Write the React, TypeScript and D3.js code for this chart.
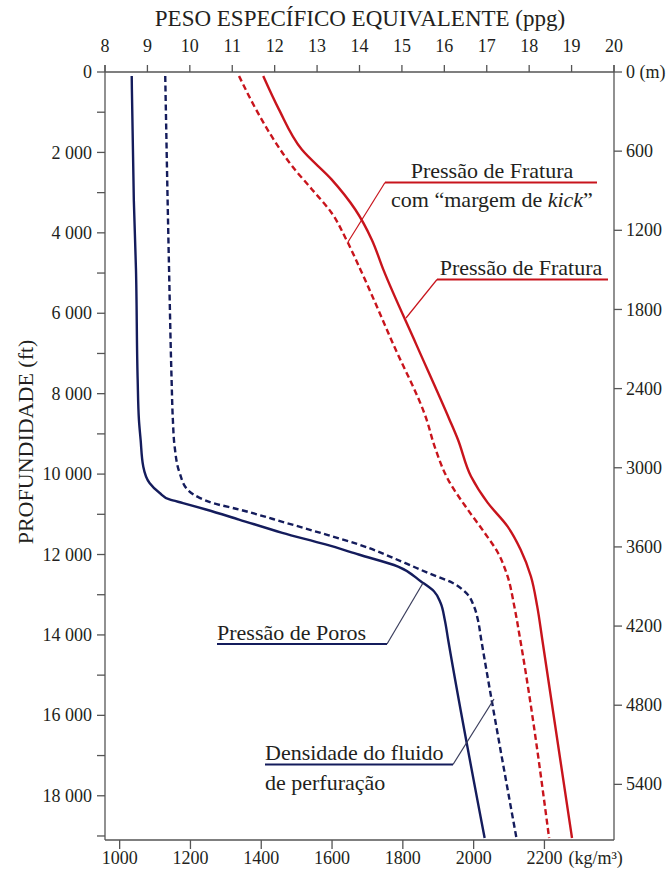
import React from "react";
import * as d3 from "d3";

const width = 671;
const height = 874;
const margin = { top: 72, right: 56, bottom: 34, left: 105 };

// depths in ft, values in ppg
const poreDepth = [100, 3200, 4900, 7650, 8650, 9150, 9800, 10220, 10470, 10630, 10720, 10880, 11130, 11460, 11750, 12000, 12300, 12670, 12920, 13200, 13620, 14120, 19050];
const porePpg = [8.63, 8.68, 8.73, 8.77, 8.8, 8.84, 8.9, 9.05, 9.29, 9.52, 9.84, 10.38, 11.16, 12.18, 13.2, 13.98, 14.91, 15.45, 15.76, 15.91, 16.01, 16.09, 16.95];

const mudDepth = [100, 4900, 7650, 8650, 9300, 9970, 10390, 10590, 10720, 10880, 11210, 11500, 11750, 12210, 12460, 12710, 12960, 13290, 13620, 14120, 19050];
const mudPpg = [9.42, 9.51, 9.57, 9.6, 9.64, 9.76, 9.95, 10.23, 10.54, 11.16, 12.26, 13.2, 13.98, 15.07, 15.62, 16.2, 16.52, 16.7, 16.79, 16.87, 17.7];

const fracDepth = [100, 930, 1930, 2670, 3420, 4170, 4910, 6780, 8640, 9140, 10060, 10710, 11300, 11880, 12540, 13290, 14120, 19050];
const fracPpg = [11.73, 12.1, 12.64, 13.34, 13.9, 14.29, 14.56, 15.34, 16.12, 16.32, 16.63, 17.02, 17.49, 17.8, 18.04, 18.19, 18.31, 19.01];

const kickDepth = [100, 930, 1750, 2340, 2920, 3500, 4170, 4910, 6780, 8640, 9310, 10140, 10880, 11460, 11950, 12540, 13290, 14120, 19050];
const kickPpg = [11.16, 11.56, 12.02, 12.41, 12.88, 13.34, 13.69, 14.02, 14.8, 15.58, 15.77, 16.09, 16.55, 16.95, 17.26, 17.49, 17.65, 17.79, 18.47];

const ppgTicks = d3.range(8, 21, 1);
const ftTicks = d3.range(0, 19001, 1000);
const mTicks = d3.range(0, 5401, 600);
const kgTicks = d3.range(1000, 2201, 200);

const KG_PER_PPG = 119.826;
const FT_PER_M = 3.28084;

const RED = "#c8141c";
const NAVY = "#141c5c";
const TEXT = "#231f20";
const AXIS = "#555";
const FONT = "Liberation Serif, Times New Roman, serif";

const fmt = d3.formatLocale({ decimal: ",", thousands: " ", grouping: [3], currency: ["", ""] }).format(",d");

const x = d3.scaleLinear().domain([8, 20]).range([margin.left, width - margin.right - 1]);
const y = d3.scaleLinear().domain([0, 19100]).range([margin.top, height - margin.bottom]);

const line = d3
  .line<[number, number]>()
  .x((d) => x(d[1]))
  .y((d) => y(d[0]))
  .curve(d3.curveMonotoneY);

const series = [
  { depth: poreDepth, ppg: porePpg, color: NAVY, dash: null },
  { depth: mudDepth, ppg: mudPpg, color: NAVY, dash: "6 3.5" },
  { depth: fracDepth, ppg: fracPpg, color: RED, dash: null },
  { depth: kickDepth, ppg: kickPpg, color: RED, dash: "6 3.5" },
];

const App = () => {
  const x0 = x(8);
  const x1 = x(20);
  const yTop = y(0);
  const yBot = y.range()[1];

  return (
    <svg
      width={width}
      height={height}
      style={{ position: "absolute", left: 0, top: 0, background: "#fff", fontFamily: FONT }}
    >
      {/* title */}
      <text x={360} y={26} textAnchor="middle" fontSize={23} fill={TEXT}>
        PESO ESPECÍFICO EQUIVALENTE (ppg)
      </text>

      {/* frame */}
      <line x1={x0} x2={x1} y1={yTop} y2={yTop} stroke={AXIS} strokeWidth={1.3} />
      <line x1={x0} x2={x1} y1={yBot} y2={yBot} stroke={AXIS} strokeWidth={1.3} />
      <line x1={x0} x2={x0} y1={yTop - 7} y2={yBot} stroke={AXIS} strokeWidth={1.3} />
      <line x1={x1} x2={x1} y1={yTop - 7} y2={yBot} stroke={AXIS} strokeWidth={1.3} />

      {/* top axis: ppg */}
      {ppgTicks.map((t) => (
        <g key={"p" + t}>
          <line x1={x(t)} x2={x(t)} y1={yTop - 7} y2={yTop} stroke={AXIS} strokeWidth={1.3} />
          <text x={x(t)} y={52} textAnchor="middle" fontSize={18} fill={TEXT}>
            {t}
          </text>
        </g>
      ))}

      {/* left axis: ft */}
      {ftTicks.map((t) => (
        <g key={"f" + t}>
          <line x1={x0 - 8} x2={x0} y1={y(t)} y2={y(t)} stroke={AXIS} strokeWidth={1.3} />
          {t % 2000 === 0 && (
            <text x={x0 - 13} y={y(t)} dy="0.34em" textAnchor="end" fontSize={18} fill={TEXT}>
              {fmt(t)}
            </text>
          )}
        </g>
      ))}

      {/* right axis: m */}
      {mTicks.map((t) => (
        <g key={"m" + t}>
          <line x1={x1} x2={x1 + 8} y1={y(t * FT_PER_M)} y2={y(t * FT_PER_M)} stroke={AXIS} strokeWidth={1.3} />
          <text x={x1 + 12} y={y(t * FT_PER_M)} dy="0.34em" fontSize={18} fill={TEXT}>
            {t === 0 ? "0 (m)" : t}
          </text>
        </g>
      ))}

      {/* bottom axis: kg/m3 */}
      {kgTicks.map((t) => (
        <g key={"k" + t}>
          <line x1={x(t / KG_PER_PPG)} x2={x(t / KG_PER_PPG)} y1={yBot} y2={yBot + 9} stroke={AXIS} strokeWidth={1.3} />
          <text x={x(t / KG_PER_PPG)} y={yBot + 24} textAnchor="middle" fontSize={18} fill={TEXT}>
            {t}
          </text>
        </g>
      ))}
      <text x={x(2200 / KG_PER_PPG) + 24} y={yBot + 24} fontSize={18} fill={TEXT}>
        (kg/m³)
      </text>

      {/* y label */}
      <text
        transform={`translate(33,${y(9200)}) rotate(-90)`}
        textAnchor="middle"
        fontSize={22}
        fill={TEXT}
      >
        PROFUNDIDADE (ft)
      </text>

      {/* curves */}
      {series.map((s, i) => (
        <path
          key={i}
          d={line(s.depth.map((d, j) => [d, s.ppg[j]] as [number, number])) || ""}
          fill="none"
          stroke={s.color}
          strokeWidth={2.4}
          strokeDasharray={s.dash || undefined}
        />
      ))}

      {/* annotations */}
      <g fontSize={22} fill={TEXT}>
        <text x={492} y={178} textAnchor="middle">Pressão de Fratura</text>
        <text x={492} y={207} textAnchor="middle">
          com “margem de <tspan fontStyle="italic">kick</tspan>”
        </text>
        <line x1={385} x2={597} y1={182.5} y2={182.5} stroke={RED} strokeWidth={2} />
        <line x1={385} x2={348} y1={182.5} y2={242} stroke={RED} strokeWidth={1.2} />

        <text x={521} y={275} textAnchor="middle">Pressão de Fratura</text>
        <line x1={437} x2={608} y1={279.5} y2={279.5} stroke={RED} strokeWidth={2} />
        <line x1={437} x2={406} y1={279.5} y2={318} stroke={RED} strokeWidth={1.2} />

        <text x={217} y={640}>Pressão de Poros</text>
        <line x1={217} x2={387} y1={644} y2={644} stroke={NAVY} strokeWidth={2} />
        <line x1={387} x2={423} y1={644} y2={583} stroke="#3a3d5c" strokeWidth={1.2} />

        <text x={265} y={760}>Densidade do fluido</text>
        <text x={265} y={790}>de perfuração</text>
        <line x1={265} x2={453} y1={764.5} y2={764.5} stroke={NAVY} strokeWidth={2} />
        <line x1={453} x2={494} y1={764.5} y2={699} stroke="#3a3d5c" strokeWidth={1.2} />
      </g>
    </svg>
  );
};

export default App;
